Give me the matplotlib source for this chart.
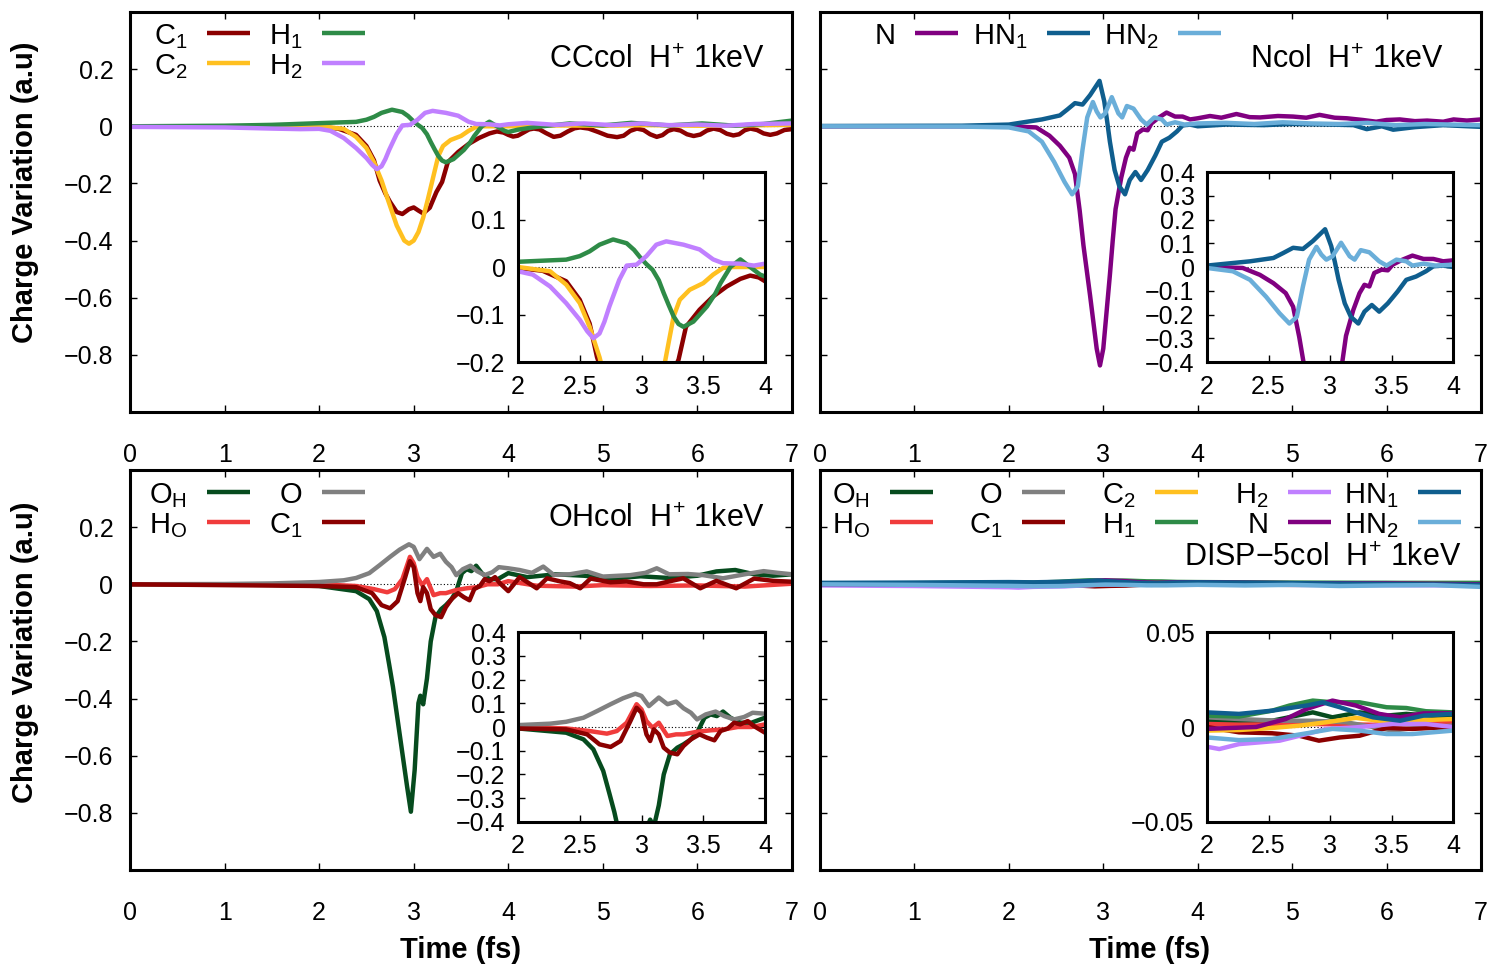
import numpy as np
import matplotlib
matplotlib.use("Agg")
import matplotlib.pyplot as plt
from matplotlib.ticker import FuncFormatter

plt.rcParams["font.family"] = ["Liberation Sans", "DejaVu Sans"]
plt.rcParams["mathtext.fontset"] = "custom"
plt.rcParams["mathtext.rm"] = "Liberation Sans"
plt.rcParams["mathtext.it"] = "Liberation Sans"

# charge variation (a.u.) vs time (fs), as (t, dq) pairs

# --- CCcol, H+ 1 keV
cc_c1 = [(0, 0), (1.5, 0), (2.0, -0.002), (2.2, -0.008), (2.39, -0.03), (2.5, -0.069),
         (2.58, -0.119), (2.64, -0.19), (2.7, -0.235), (2.75, -0.265), (2.82, -0.3),
         (2.88, -0.307), (2.95, -0.29), (3.0, -0.284), (3.05, -0.295), (3.1, -0.305),
         (3.17, -0.285), (3.24, -0.23), (3.3, -0.195), (3.36, -0.126), (3.47, -0.09),
         (3.58, -0.062), (3.69, -0.041), (3.8, -0.025), (3.88, -0.018), (3.95, -0.022),
         (4.0, -0.03), (4.05, -0.036), (4.1, -0.033), (4.16, -0.022), (4.22, -0.011),
         (4.27, -0.008), (4.33, -0.011), (4.4, -0.024), (4.48, -0.037), (4.55, -0.033),
         (4.63, -0.018), (4.7, -0.007), (4.76, -0.004), (4.85, -0.008), (4.95, -0.02),
         (5.05, -0.033), (5.15, -0.038), (5.22, -0.033), (5.29, -0.016), (5.36, -0.008),
         (5.43, -0.013), (5.5, -0.028), (5.57, -0.037), (5.63, -0.031), (5.69, -0.016),
         (5.75, -0.01), (5.82, -0.015), (5.89, -0.028), (5.96, -0.034), (6.03, -0.029),
         (6.1, -0.015), (6.17, -0.008), (6.24, -0.013), (6.31, -0.026), (6.38, -0.032),
         (6.44, -0.028), (6.5, -0.014), (6.56, -0.008), (6.63, -0.013), (6.7, -0.025),
         (6.77, -0.03), (6.84, -0.025), (6.92, -0.013), (7.0, -0.01)]
cc_c2 = [(0, 0), (1.5, 0), (2.0, 0), (2.26, -0.009), (2.39, -0.037), (2.5, -0.076),
         (2.58, -0.126), (2.66, -0.19), (2.72, -0.25), (2.82, -0.347), (2.9, -0.4),
         (2.95, -0.411), (3.0, -0.4), (3.05, -0.37), (3.1, -0.32), (3.15, -0.255),
         (3.19, -0.2), (3.23, -0.145), (3.26, -0.104), (3.31, -0.069), (3.39, -0.048),
         (3.5, -0.034), (3.58, -0.016), (3.66, -0.002), (3.74, 0), (4.0, 0),
         (4.5, 0.003), (5.0, 0.002), (5.5, 0.004), (6.0, 0.002), (6.5, 0.003), (7.0, 0.005)]
cc_h1 = [(0, 0), (1.0, 0.002), (1.5, 0.005), (2.0, 0.011), (2.39, 0.0155), (2.5, 0.023),
         (2.58, 0.033), (2.66, 0.047), (2.77, 0.058), (2.88, 0.05), (2.94, 0.036),
         (2.99, 0.02), (3.04, 0.006), (3.09, -0.006), (3.14, -0.028), (3.18, -0.055),
         (3.22, -0.08), (3.26, -0.104), (3.3, -0.12), (3.34, -0.126), (3.42, -0.115),
         (3.53, -0.083), (3.6, -0.055), (3.64, -0.034), (3.72, 0), (3.8, 0.016),
         (3.88, 0), (3.96, -0.016), (4.0, -0.02), (4.1, -0.012), (4.3, -0.002),
         (4.65, 0.01), (5.0, 0.003), (5.3, 0.012), (5.7, 0.003), (6.05, 0.01),
         (6.4, 0.002), (6.7, 0.008), (7.0, 0.02)]
cc_h2 = [(0, -0.002), (1.0, -0.004), (1.5, -0.008), (1.8, -0.01), (2.0, -0.009),
         (2.12, -0.016), (2.26, -0.041), (2.39, -0.076), (2.5, -0.111), (2.56, -0.135),
         (2.61, -0.15), (2.66, -0.14), (2.7, -0.115), (2.74, -0.083), (2.78, -0.055),
         (2.82, -0.027), (2.88, 0.003), (2.96, 0.005), (3.04, 0.023), (3.12, 0.047),
         (3.2, 0.054), (3.34, 0.047), (3.47, 0.037), (3.58, 0.016), (3.66, 0.008),
         (3.8, 0.007), (3.91, 0.003), (4.0, 0.007), (4.2, 0.012), (4.5, 0.005),
         (4.8, 0.01), (5.1, 0.004), (5.4, 0.01), (5.7, 0.004), (6.0, 0.006),
         (6.3, 0.002), (6.6, 0.008), (7.0, 0.01)]

# --- Ncol, H+ 1 keV
n_n = [(0, 0), (2.0, 0), (2.29, -0.004), (2.43, -0.033), (2.54, -0.068), (2.64, -0.11),
       (2.7, -0.167), (2.75, -0.295), (2.79, -0.417), (2.86, -0.592), (2.93, -0.778),
       (2.965, -0.837), (3.0, -0.778), (3.07, -0.52), (3.1, -0.4), (3.13, -0.29),
       (3.19, -0.18), (3.24, -0.11), (3.28, -0.075), (3.32, -0.082), (3.36, -0.025),
       (3.42, -0.011), (3.47, -0.014), (3.51, 0.01), (3.59, 0.031), (3.67, 0.048),
       (3.76, 0.034), (3.84, 0.034), (3.92, 0.024), (4.0, 0.028), (4.13, 0.036),
       (4.25, 0.03), (4.41, 0.043), (4.55, 0.032), (4.66, 0.031), (4.85, 0.036),
       (5.01, 0.034), (5.15, 0.03), (5.29, 0.04), (5.45, 0.03), (5.58, 0.028),
       (5.75, 0.022), (5.89, 0.016), (6.0, 0.022), (6.14, 0.024), (6.3, 0.018),
       (6.43, 0.02), (6.6, 0.016), (6.71, 0.024), (6.85, 0.02), (7.0, 0.024)]
n_hn1 = [(0, 0.001), (1.5, 0.002), (2.0, 0.006), (2.35, 0.024), (2.54, 0.038),
         (2.62, 0.059), (2.7, 0.081), (2.78, 0.076), (2.86, 0.109), (2.96, 0.159),
         (3.01, 0.088), (3.04, 0.02), (3.07, -0.054), (3.12, -0.153), (3.17, -0.21),
         (3.23, -0.238), (3.28, -0.188), (3.34, -0.16), (3.4, -0.188), (3.47, -0.153),
         (3.55, -0.103), (3.62, -0.054), (3.7, -0.04), (3.78, -0.018), (3.84, 0.003),
         (3.92, 0.006), (4.0, 0), (4.3, 0.006), (4.7, 0.004), (5.0, 0.008), (5.4, 0.006),
         (5.65, 0.004), (5.79, -0.01), (5.95, 0), (6.07, -0.012), (6.3, -0.003),
         (6.6, 0.004), (7.0, -0.002)]
n_hn2 = [(0, 0), (1.5, -0.001), (2.0, -0.004), (2.21, -0.018), (2.35, -0.054),
         (2.48, -0.125), (2.59, -0.195), (2.67, -0.238), (2.73, -0.21), (2.78, -0.082),
         (2.83, 0.031), (2.89, 0.085), (2.93, 0.052), (2.97, 0.031), (3.02, 0.045),
         (3.09, 0.102), (3.16, 0.045), (3.2, 0.031), (3.25, 0.071), (3.32, 0.062),
         (3.4, 0.024), (3.46, 0.006), (3.54, 0.031), (3.62, 0.024), (3.67, 0.006),
         (3.76, 0.014), (3.86, 0.006), (4.0, 0.01), (4.3, 0.012), (4.6, 0.008),
         (4.9, 0.014), (5.2, 0.01), (5.5, 0.008), (5.8, 0.012), (6.1, 0.004),
         (6.4, 0.008), (6.7, 0.006), (7.0, 0.004)]

# --- OHcol, H+ 1 keV
oh_oh = [(0, 0), (1.5, -0.002), (2.0, -0.006), (2.39, -0.024), (2.53, -0.052),
         (2.61, -0.094), (2.69, -0.185), (2.74, -0.28), (2.78, -0.358), (2.855, -0.533),
         (2.93, -0.708), (2.97, -0.796), (3.01, -0.65), (3.05, -0.416), (3.07, -0.39),
         (3.1, -0.42), (3.14, -0.33), (3.18, -0.2), (3.23, -0.115), (3.29, -0.087),
         (3.34, -0.073), (3.4, -0.052), (3.45, -0.024), (3.51, 0.039), (3.56, 0.053),
         (3.61, 0.046), (3.66, 0.065), (3.72, 0.039), (3.8, 0.018), (3.89, 0.018),
         (4.0, 0.039), (4.2, 0.025), (4.5, 0.035), (4.8, 0.03), (5.1, 0.02), (5.4, 0.028),
         (5.7, 0.022), (6.0, 0.03), (6.2, 0.045), (6.4, 0.05), (6.6, 0.035), (6.8, 0.03),
         (7.0, 0.035)]
oh_ho = [(0, 0), (2.0, 0), (2.39, -0.006), (2.58, -0.017), (2.72, -0.028), (2.8, -0.017),
         (2.88, 0.018), (2.96, 0.096), (3.0, 0.074), (3.04, 0.025), (3.09, -0.003),
         (3.14, 0.018), (3.21, -0.038), (3.28, -0.031), (3.34, -0.031), (3.45, -0.02),
         (3.56, -0.014), (3.67, -0.01), (3.78, 0), (3.89, 0), (4.0, 0.011), (4.3, -0.005),
         (4.7, -0.008), (5.0, -0.003), (5.5, -0.006), (6.0, -0.004), (6.5, -0.008),
         (7.0, 0.002)]
oh_o = [(0, 0), (1.0, 0.001), (1.5, 0.003), (2.0, 0.008), (2.26, 0.014), (2.39, 0.022),
        (2.53, 0.039), (2.64, 0.067), (2.75, 0.096), (2.85, 0.121), (2.95, 0.14),
        (3.0, 0.131), (3.06, 0.088), (3.14, 0.124), (3.21, 0.096), (3.28, 0.107),
        (3.34, 0.079), (3.4, 0.06), (3.45, 0.032), (3.52, 0.053), (3.6, 0.065),
        (3.67, 0.046), (3.75, 0.032), (3.83, 0.042), (3.9, 0.06), (4.0, 0.056),
        (4.12, 0.05), (4.25, 0.04), (4.37, 0.062), (4.48, 0.033), (4.65, 0.035),
        (4.83, 0.045), (5.0, 0.027), (5.29, 0.032), (5.45, 0.04), (5.57, 0.056),
        (5.7, 0.035), (5.9, 0.036), (6.06, 0.032), (6.27, 0.021), (6.5, 0.035),
        (6.7, 0.046), (6.85, 0.04), (7.0, 0.035)]
oh_c1 = [(0, 0), (2.0, -0.006), (2.39, -0.01), (2.56, -0.031), (2.66, -0.073),
         (2.75, -0.084), (2.83, -0.059), (2.91, 0.025), (2.96, 0.081), (3.0, 0.06),
         (3.04, -0.031), (3.07, -0.059), (3.1, -0.01), (3.14, -0.031), (3.18, -0.087),
         (3.23, -0.108), (3.29, -0.115), (3.34, -0.08), (3.4, -0.052), (3.47, -0.031),
         (3.53, -0.045), (3.59, -0.056), (3.64, -0.017), (3.7, -0.006), (3.75, 0.018),
         (3.8, 0.011), (3.86, 0.025), (3.91, 0.004), (4.0, -0.024), (4.12, 0.025),
         (4.3, -0.014), (4.41, 0.021), (4.55, 0.01), (4.65, 0.004), (4.76, -0.014),
         (4.87, 0.02), (5.08, 0.007), (5.25, 0.01), (5.43, 0), (5.57, 0), (5.7, 0.01),
         (5.85, 0.021), (6.03, -0.014), (6.2, 0.012), (6.41, -0.014), (6.6, 0.02),
         (6.8, 0.012), (7.0, 0.009)]

# --- DISP-5col, H+ 1 keV
dp_oh = [(0, 0.001), (1.0, 0.002), (2.0, 0.0033), (2.53, 0.0033), (2.86, 0.0077),
         (3.02, 0.0051), (3.24, 0.0077), (3.46, 0.006), (3.62, 0.0069), (4.0, 0.0051),
         (5.0, 0.003), (6.0, 0.004), (7.0, 0.002)]
dp_ho = [(0, 0), (2.0, 0.0016), (2.26, 0.0012), (2.8, 0.0016), (3.35, 0.0012),
         (3.62, 0.0025), (4.0, 0.0025), (5.0, 0.001), (6.0, 0), (7.0, 0.001)]
dp_o = [(0, 0.002), (2.0, 0.0051), (2.26, 0.0042), (2.59, 0.0033), (2.86, 0.0033),
        (3.13, 0.0025), (3.35, 0), (3.51, -0.0019), (3.76, 0), (4.0, 0.0007),
        (5.0, 0), (6.0, -0.001), (7.0, -0.001)]
dp_c1 = [(0, 0), (2.0, 0), (2.26, -0.0028), (2.53, -0.0033), (2.75, -0.0046),
         (2.91, -0.0072), (3.08, -0.0055), (3.24, -0.0046), (3.46, -0.0005),
         (3.67, -0.001), (4.0, 0), (5.0, -0.002), (6.0, -0.001), (7.0, -0.002)]
dp_c2 = [(0, 0), (2.0, -0.0019), (2.26, -0.0016), (2.53, -0.0005), (2.75, 0.0007),
         (2.97, 0.0025), (3.21, 0.0048), (3.4, 0.0033), (3.62, 0.0033), (4.0, 0.0042),
         (5.0, 0.003), (6.0, 0.002), (7.0, 0.001)]
dp_h1 = [(0, 0.002), (2.0, 0.006), (2.26, 0.0055), (2.53, 0.0086), (2.67, 0.0113),
         (2.86, 0.0139), (3.02, 0.013), (3.24, 0.013), (3.46, 0.0104), (3.62, 0.01),
         (3.78, 0.0083), (4.0, 0.0077), (5.0, 0.006), (6.0, 0.005), (7.0, 0.005)]
dp_h2 = [(0, -0.004), (1.0, -0.006), (2.0, -0.0104), (2.1, -0.0116), (2.26, -0.009),
         (2.59, -0.0072), (2.81, -0.0037), (2.97, -0.001), (3.21, -0.0002),
         (3.51, 0.0016), (3.78, 0.0016), (4.0, 0), (5.0, -0.002), (6.0, -0.003),
         (7.0, -0.004)]
dp_n = [(0, 0), (2.0, -0.001), (2.4, 0), (2.64, 0.0042), (2.81, 0.0095), (3.02, 0.0139),
        (3.21, 0.0113), (3.4, 0.0069), (3.57, 0.0051), (3.76, 0.0072), (4.0, 0.0072),
        (5.0, 0.004), (6.0, 0.003), (7.0, 0)]
dp_hn1 = [(0, 0.005), (1.0, 0.006), (2.0, 0.0077), (2.26, 0.0069), (2.53, 0.0086),
          (2.81, 0.0113), (2.94, 0.013), (3.08, 0.0104), (3.21, 0.0077), (3.35, 0.0051),
          (3.57, 0.0033), (3.76, 0.006), (4.0, 0.0069), (5.0, 0.004), (6.0, 0.001),
          (7.0, -0.002)]
dp_hn2 = [(0, 0), (1.0, -0.002), (2.0, -0.0055), (2.26, -0.0069), (2.53, -0.0063),
          (2.81, -0.0033), (3.02, -0.001), (3.24, -0.0019), (3.46, -0.0037),
          (3.67, -0.0037), (4.0, -0.0019), (4.5, -0.004), (5.0, -0.002), (5.5, -0.006),
          (6.0, -0.004), (6.5, -0.003), (7.0, -0.009)]

colors = {"C1": "#8b0000", "C2": "#ffc020", "H1": "#2e8b47", "H2": "#c080ff",
          "N": "#800080", "HN1": "#0f5e8e", "HN2": "#6aaed9",
          "OH": "#064b1e", "HO": "#f03c3c", "O": "#808080"}
names = {"C1": r"$\mathregular{C_1}$", "C2": r"$\mathregular{C_2}$",
         "H1": r"$\mathregular{H_1}$", "H2": r"$\mathregular{H_2}$",
         "N": "N", "HN1": r"$\mathregular{HN_1}$", "HN2": r"$\mathregular{HN_2}$",
         "OH": r"$\mathregular{O_H}$", "HO": r"$\mathregular{H_O}$", "O": "O"}

LW = 3.2
FS = 18        # tick labels
FS_KEY = 21    # key entries
FS_TITLE = 22  # run titles
FS_AXIS = 21   # axis labels


def gp_fmt(v, pos):
    v = round(v, 6)
    if v == 0:
        return "0"
    return f"{v:g}".replace("-", "\u2212")


def style(ax, xticks, yticks, labelleft=True, labelbottom=True, xpad=22, ypad=12):
    for s in ax.spines.values():
        s.set_linewidth(2.2)
    ax.set_xticks(xticks)
    ax.set_yticks(yticks)
    ax.xaxis.set_major_formatter(FuncFormatter(gp_fmt))
    ax.yaxis.set_major_formatter(FuncFormatter(gp_fmt))
    ax.tick_params(direction="in", top=True, right=True, length=5, width=1,
                   labelsize=FS, labelleft=labelleft, labelbottom=labelbottom)
    ax.tick_params(axis="x", pad=xpad)
    ax.tick_params(axis="y", pad=ypad)


def draw(ax, series):
    ax.axhline(0, color="k", lw=0.8, ls=(0, (1, 2)), zorder=1)
    for key, pts in series:
        t, dq = np.array(pts).T
        ax.plot(t, dq, color=colors[key], lw=LW, solid_joinstyle="round",
                solid_capstyle="round", zorder=2)


def key_box(ax, columns, line_x, rows, seg=0.065, gap=0.03):
    # gnuplot-style key: right-aligned label followed by a line sample
    for col, x0 in zip(columns, line_x):
        for name, y in zip(col, rows):
            ax.text(x0 - gap, y - 0.027, names[name], transform=ax.transAxes,
                    ha="right", va="baseline", fontsize=FS_KEY)
            ax.plot([x0, x0 + seg], [y, y], transform=ax.transAxes, clip_on=False,
                    color=colors[name], lw=LW, solid_capstyle="butt")


def title(ax, x, y, head):
    ax.text(x, y, head + r"  $\mathregular{H^{+}}$ 1keV", transform=ax.transAxes,
            ha="right", va="baseline", fontsize=FS_TITLE)


fig = plt.figure(figsize=(14.96, 9.67), dpi=100)

panels = [
    # main rect, inset rect, inset ylim, inset yticks, series
    ([0.0869, 0.57394, 0.44251, 0.41365], [0.34626, 0.62564, 0.16511, 0.19648],
     (-0.2, 0.2), [-0.2, -0.1, 0, 0.1, 0.2],
     [("C1", cc_c1), ("C2", cc_c2), ("H1", cc_h1), ("H2", cc_h2)]),
    ([0.54813, 0.57394, 0.44184, 0.41365], [0.80682, 0.62564, 0.16444, 0.19648],
     (-0.4, 0.4), [-0.4, -0.3, -0.2, -0.1, 0, 0.1, 0.2, 0.3, 0.4],
     [("N", n_n), ("HN1", n_hn1), ("HN2", n_hn2)]),
    ([0.0869, 0.10031, 0.44251, 0.41365], [0.34626, 0.14995, 0.16511, 0.19648],
     (-0.4, 0.4), [-0.4, -0.3, -0.2, -0.1, 0, 0.1, 0.2, 0.3, 0.4],
     [("OH", oh_oh), ("HO", oh_ho), ("O", oh_o), ("C1", oh_c1)]),
    ([0.54813, 0.10031, 0.44184, 0.41365], [0.80682, 0.14995, 0.16444, 0.19648],
     (-0.05, 0.05), [-0.05, 0, 0.05],
     [("OH", dp_oh), ("HO", dp_ho), ("O", dp_o), ("C1", dp_c1), ("C2", dp_c2),
      ("H1", dp_h1), ("H2", dp_h2), ("N", dp_n), ("HN1", dp_hn1), ("HN2", dp_hn2)]),
]

mains = []
for i, (rect, irect, ilim, iticks, series) in enumerate(panels):
    ax = fig.add_axes(rect)
    draw(ax, series)
    ax.set_xlim(0, 7)
    ax.set_ylim(-1.0, 0.4)
    style(ax, range(8), [-0.8, -0.6, -0.4, -0.2, 0, 0.2], labelleft=(i % 2 == 0))
    mains.append(ax)

    ins = fig.add_axes(irect, zorder=5)
    ins.set_facecolor("white")
    draw(ins, series)
    ins.set_xlim(2, 4)
    ins.set_ylim(*ilim)
    style(ins, [2, 2.5, 3, 3.5, 4], iticks, xpad=9, ypad=9)

ax_cc, ax_n, ax_oh, ax_dp = mains

key_box(ax_cc, [["C1", "C2"], ["H1", "H2"]], [0.1163, 0.29], [0.9475, 0.8725])
key_box(ax_n, [["N"], ["HN1"], ["HN2"]], [0.1437, 0.3434, 0.5416], [0.9475])
key_box(ax_oh, [["OH", "HO"], ["O", "C1"]], [0.1163, 0.29], [0.945, 0.87])
key_box(ax_dp, [["OH", "HO"], ["O", "C1"], ["C2", "H1"], ["H2", "N"], ["HN1", "HN2"]],
        [0.1059, 0.3056, 0.5068, 0.708, 0.9047], [0.945, 0.87])

title(ax_cc, 0.959, 0.86, "CCcol")
title(ax_n, 0.9425, 0.86, "Ncol")
title(ax_oh, 0.959, 0.8575, "OHcol")
title(ax_dp, 0.971, 0.76, "DISP\u22125col")

for y in (0.8014, 0.3257):
    fig.text(0.0167, y, "Charge Variation (a.u)", rotation=90, ha="center",
             va="center", fontsize=FS_AXIS, fontweight="bold")
for x in (0.308, 0.7687):
    fig.text(x, 0.0176, "Time (fs)", ha="center", va="center", fontsize=FS_AXIS,
             fontweight="bold")

fig.savefig("out.png", dpi=100)
